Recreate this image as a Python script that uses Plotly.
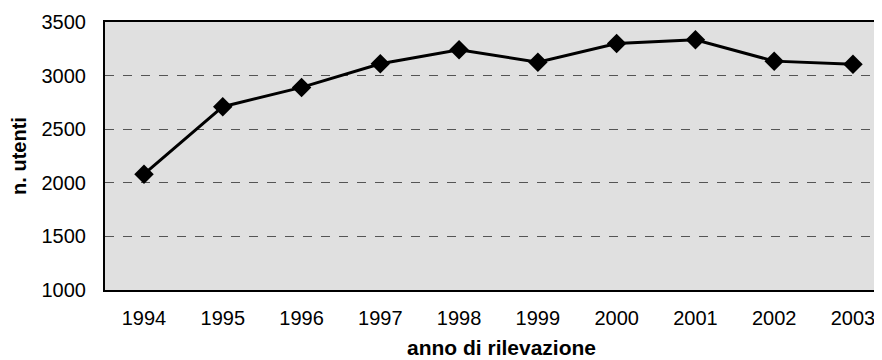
import plotly.graph_objects as go

years = ["1994", "1995", "1996", "1997", "1998", "1999", "2000", "2001", "2002", "2003"]
utenti = [2080, 2710, 2890, 3110, 3240, 3125, 3300, 3335, 3135, 3105]
y_ticks = [1000, 1500, 2000, 2500, 3000, 3500]

fig = go.Figure(go.Scatter(
    x=years, y=utenti, mode="lines+markers",
    line=dict(color="black", width=3),
    marker=dict(symbol="diamond", size=15, color="black"),
))

font = "Liberation Sans"
fig.update_layout(
    width=866, height=352,
    margin=dict(l=97, r=0, t=14, b=70),
    paper_bgcolor="white", plot_bgcolor="#e0e0e0",
    showlegend=False,
    font=dict(family=font, size=20, color="black"),
    annotations=[dict(
        text="<b>anno di rilevazione</b>", font=dict(size=21),
        xref="paper", yref="paper", x=0.516, y=0,
        xanchor="center", yanchor="middle", yshift=-57, showarrow=False,
    )],
)
fig.update_xaxes(
    type="category", range=[-0.495, 9.267], showgrid=False, ticks="", ticklabelstandoff=9,
    showline=True, linecolor="black", linewidth=2, mirror=True,
)
fig.update_yaxes(
    range=[1000, 3500], tickvals=y_ticks, ticks="", ticklabelstandoff=13,
    showgrid=True, gridcolor="#555555", gridwidth=1, griddash="dash",
    showline=True, linecolor="black", linewidth=2, mirror=False, zeroline=False,
    title=dict(text="<b>n. utenti</b>", font=dict(size=20), standoff=10),
)
fig.write_html("out.html")
